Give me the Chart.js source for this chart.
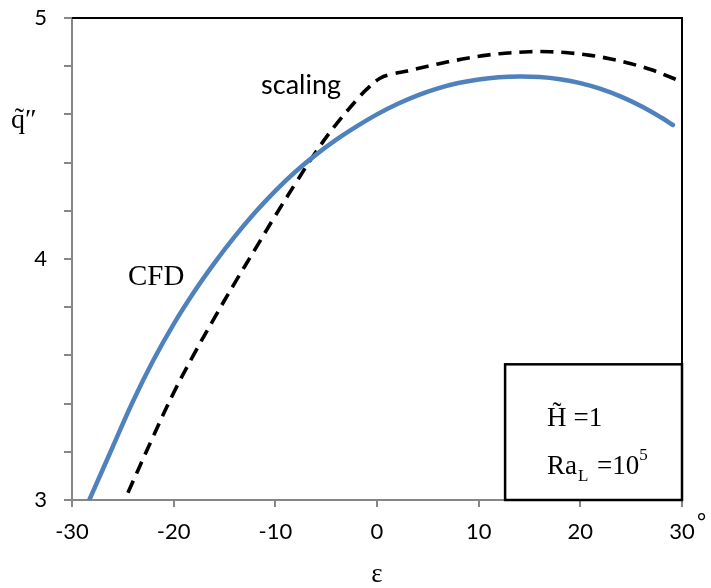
<!DOCTYPE html>
<html>
<head>
<meta charset="utf-8">
<script src="https://cdn.jsdelivr.net/npm/chart.js@4/dist/chart.umd.min.js"></script>
<style>
  html, body { margin: 0; padding: 0; background: #fff; }
  #wrap { width: 711px; height: 588px; }
</style>
</head>
<body>
<div id="wrap"><canvas id="chart" width="711" height="588"></canvas></div>
<script>
// CFD curve (solid blue)
const cfdX = [-28.3, -26, -24, -22, -20, -18, -16, -14, -12, -10, -8, -6, -4, -2, 0, 2, 4, 6, 8, 10, 12, 14, 16, 18, 20, 22, 24, 26, 28, 29.1];
const cfdY = [3.00, 3.22, 3.41, 3.58, 3.73, 3.863, 3.983, 4.093, 4.193, 4.283, 4.363, 4.433, 4.495, 4.55, 4.60, 4.643, 4.679, 4.708, 4.73, 4.745, 4.754, 4.757, 4.755, 4.746, 4.73, 4.706, 4.674, 4.634, 4.586, 4.556];

// scaling curve (dashed black)
const scaleX = [-24.5, -22, -20, -18, -16, -14, -12, -10, -8, -6, -4, -2, -1, 0.3, 1.5, 3, 5, 7, 9, 11, 13, 15, 17, 19, 21, 23, 25, 27, 29, 30];
const scaleY = [3.03, 3.265, 3.445, 3.605, 3.755, 3.90, 4.04, 4.18, 4.315, 4.445, 4.56, 4.66, 4.705, 4.75, 4.767, 4.78, 4.8, 4.818, 4.834, 4.847, 4.855, 4.86, 4.86, 4.855, 4.845, 4.83, 4.81, 4.785, 4.752, 4.733];

const xTicks = [-30, -20, -10, 0, 10, 20, 30];
const yLabels = [3, 4, 5];

const toPts = (xs, ys) => xs.map((x, i) => ({x: x, y: ys[i]}));

const sansFont = 'Lato, "Open Sans", sans-serif';
const serifFont = '"Liberation Serif", "Times New Roman", serif';

// frame, labels and the parameter box
const decor = {
    id: 'decor',
    afterDraw(chart) {
        const c = chart.ctx;
        const a = chart.chartArea;
        const xs = chart.scales.x, ys = chart.scales.y;
        c.save();
        // black top and right frame
        c.strokeStyle = '#000';
        c.lineWidth = 2;
        c.beginPath();
        c.moveTo(a.left, a.top);
        c.lineTo(a.right, a.top);
        c.lineTo(a.right, a.bottom);
        c.stroke();

        // parameter box
        const bx = xs.getPixelForValue(12.6), by = ys.getPixelForValue(3.563);
        c.lineWidth = 2.5;
        c.strokeRect(bx, by, a.right - bx, a.bottom - by);

        c.fillStyle = '#000';
        c.textBaseline = 'alphabetic';
        const tx = bx + 42;
        c.font = '27px ' + serifFont;
        c.fillText('H\u0303', tx, by + 62);
        let wh = c.measureText('H\u0303').width;
        c.fillText('=1', tx + wh + 7, by + 62);
        c.fillText('Ra', tx, by + 110);
        let w = c.measureText('Ra').width;
        c.font = '17px ' + serifFont;
        c.fillText('L', tx + w + 1, by + 117);
        c.font = '27px ' + serifFont;
        c.fillText('=10', tx + w + 20, by + 110);
        let w2 = c.measureText('=10').width;
        c.font = '17px ' + serifFont;
        c.fillText('5', tx + w + 20 + w2, by + 96);

        // curve labels
        c.font = '27px ' + sansFont;
        c.fillText('scaling', xs.getPixelForValue(-11.4), ys.getPixelForValue(4.685));
        c.font = '29px ' + serifFont;
        c.fillText('CFD', xs.getPixelForValue(-24.5), ys.getPixelForValue(3.892));

        // axis titles
        c.font = '28px ' + serifFont;
        c.fillText('q\u0303\u2033', 11, 128);
        c.font = '27px ' + serifFont;
        c.textAlign = 'center';
        c.fillText('\u03b5', xs.getPixelForValue(0), 582);
        c.font = '22px ' + sansFont;
        c.textAlign = 'left';
        c.fillText('\u00b0', a.right + 15, 529);
        c.restore();
    }
};

new Chart(document.getElementById('chart'), {
    type: 'line',
    data: {
        datasets: [
            {label: 'CFD', data: toPts(cfdX, cfdY), borderColor: '#4f81bd', borderWidth: 4.5,
             pointRadius: 0, tension: 0.4, borderCapStyle: 'round'},
            {label: 'scaling', data: toPts(scaleX, scaleY), borderColor: '#000', borderWidth: 3.6,
             borderDash: [13, 8], pointRadius: 0, tension: 0.4}
        ]
    },
    options: {
        responsive: false,
        animation: false,
        layout: {padding: {top: 18, right: 29, left: 0, bottom: 0}},
        plugins: {legend: {display: false}, tooltip: {enabled: false}},
        scales: {
            x: {
                type: 'linear', min: -30, max: 30,
                afterBuildTicks: s => { s.ticks = xTicks.map(v => ({value: v})); },
                afterFit: s => { s.height = 88; s.paddingLeft = 0; s.paddingRight = 0; },
                border: {color: '#868686', width: 2},
                grid: {drawOnChartArea: false, drawTicks: true, tickLength: 7, color: '#868686', lineWidth: 2},
                ticks: {color: '#000', font: {family: sansFont, size: 22}, padding: 12, maxRotation: 0}
            },
            y: {
                min: 3, max: 5,
                ticks: {stepSize: 0.2, color: '#000', font: {family: sansFont, size: 22}, padding: 17,
                        callback: v => yLabels.includes(Math.round(v * 100) / 100) ? String(Math.round(v)) : ''},
                afterFit: s => { s.width = 72; s.paddingTop = 0; s.paddingBottom = 0; },
                border: {color: '#868686', width: 2},
                grid: {drawOnChartArea: false, drawTicks: true, tickLength: 8, color: '#868686', lineWidth: 2}
            }
        }
    },
    plugins: [decor]
});
</script>
</body>
</html>
